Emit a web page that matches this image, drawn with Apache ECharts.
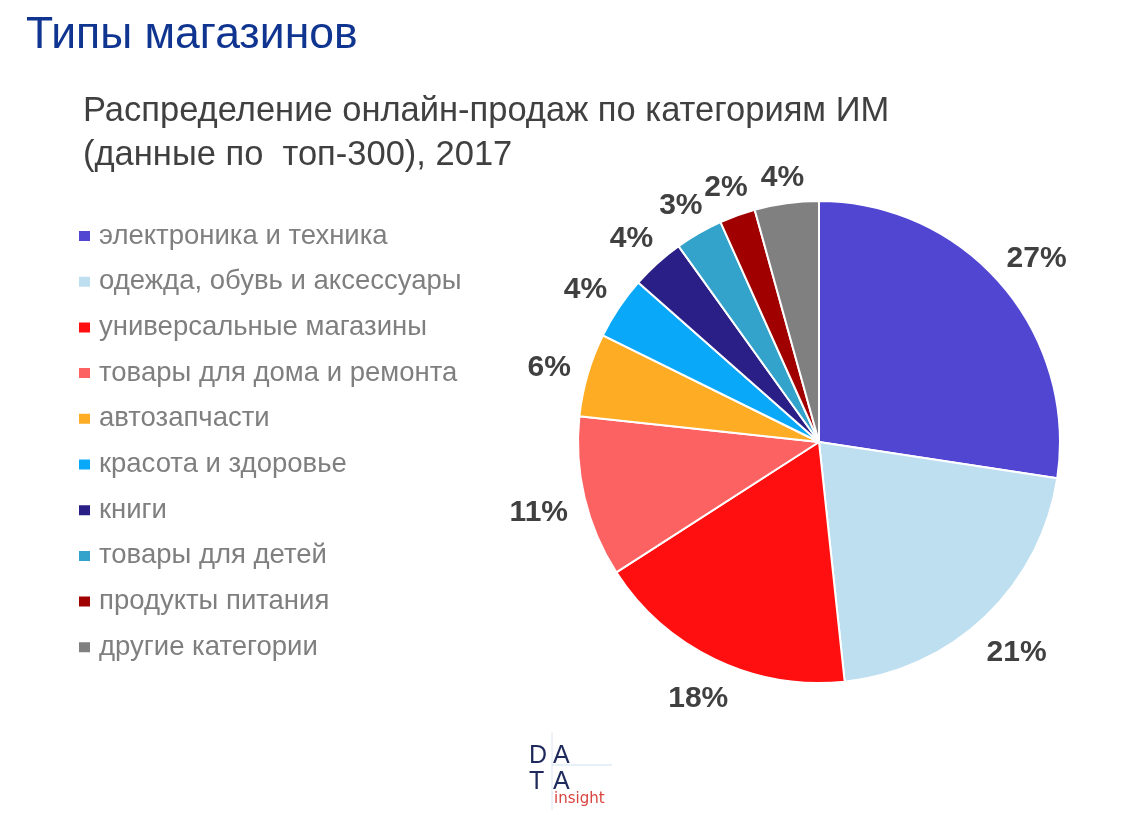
<!DOCTYPE html>
<html><head><meta charset="utf-8">
<script src="https://cdn.jsdelivr.net/npm/echarts@6/dist/echarts.min.js"></script>
<style>html,body{margin:0;padding:0;background:#fff}#c{width:1145px;height:815px}</style>
</head><body><div id="c"></div>
<script>
const categories = ['электроника и техника','одежда, обувь и аксессуары','универсальные магазины','товары для дома и ремонта','автозапчасти','красота и здоровье','книги','товары для детей','продукты питания','другие категории'];
const shares = [27.4, 20.9, 17.6, 10.8, 5.6, 4.2, 3.6, 3.2, 2.4, 4.3];
const colors = ['#5046d2','#bddff0','#ff0f0f','#fd6262','#fdac24','#0aa8f8','#2a1f86','#33a3cc','#a00000','#808080'];
const titleText = 'Типы магазинов';
const subtitleText = 'Распределение онлайн-продаж по категориям ИМ\n(данные по  топ-300), 2017';

const FONT = '"Liberation Sans", Arial, sans-serif';
const PIE_R = 241, LABEL_GAP = 13, RING_MID = 283, LABEL_FONT = 30, LABEL_HALF_H = 11, LABEL_BASE_DY = 4;

const data = categories.map((n, i) => ({ name: n, value: shares[i], itemStyle: { color: colors[i] } }));
const labelData = categories.map((n, i) => ({ name: n, value: shares[i] }));

// Excel-style "outside end" placement: nearest corner of each label box sits LABEL_GAP beyond the rim
const ctx = document.createElement('canvas').getContext('2d');
ctx.font = 'bold ' + LABEL_FONT + 'px ' + FONT;
const total = shares.reduce((a, b) => a + b, 0);
let cum = 0;
const labelShift = shares.map(v => {
  const mid = (cum + v / 2) / total * Math.PI * 2; cum += v;
  const hw = ctx.measureText(Math.round(v) + '%').width / 2;
  const s = Math.sin(mid), c = Math.cos(mid);
  const R = PIE_R + LABEL_GAP + hw * Math.abs(s) + LABEL_HALF_H * Math.abs(c);
  const d = R - RING_MID;
  return { dx: d * s, dy: -d * c + LABEL_BASE_DY };
});

const chart = echarts.init(document.getElementById('c'));
chart.setOption({
  backgroundColor: '#fff',
  animation: false,
  title: [
    { text: titleText, left: 21, top: 8, textStyle: { fontFamily: FONT, fontSize: 44.5, fontWeight: 'normal', color: '#0f3590' } },
    { text: subtitleText, left: 78, top: 84, textStyle: { fontFamily: FONT, fontSize: 34.5, fontWeight: 'normal', color: '#404040', lineHeight: 44 } }
  ],
  legend: {
    orient: 'vertical', left: 72, top: 216,
    icon: 'rect', itemWidth: 13, itemHeight: 12, itemGap: 15.7,
    data: categories,
    textStyle: { fontFamily: FONT, fontSize: 27.5, color: '#7f7f7f', lineHeight: 30, padding: [0,0,0,3] },
    selectedMode: false
  },
  series: [
    {
      type: 'pie', center: [819, 442], radius: [0, PIE_R], startAngle: 90, clockwise: true,
      data: data,
      itemStyle: { borderColor: '#fff', borderWidth: 2 },
      label: { show: false }, labelLine: { show: false },
      emphasis: { disabled: true }, silent: true
    },
    {
      type: 'pie', center: [819, 442], radius: [0, RING_MID * 2], startAngle: 90, clockwise: true,
      data: labelData,
      itemStyle: { color: 'rgba(0,0,0,0)' },
      label: { show: true, position: 'inside', formatter: p => Math.round(p.value) + '%', fontFamily: FONT, fontSize: LABEL_FONT, fontWeight: 'bold', color: '#404040' },
      labelLine: { show: false },
      labelLayout: p => ({ dx: labelShift[p.dataIndex].dx, dy: labelShift[p.dataIndex].dy, hideOverlap: false }),
      emphasis: { disabled: true }, silent: true
    }
  ],
  graphic: [
    { type: 'line', shape: { x1: 552, y1: 732, x2: 552, y2: 810 }, style: { stroke: '#dde6f2', lineWidth: 1 } },
    { type: 'line', shape: { x1: 552, y1: 765, x2: 612, y2: 765 }, style: { stroke: '#cfe0f0', lineWidth: 1 } },
    { type: 'text', left: 529, top: 744, style: { text: 'D', font: '25px "Liberation Sans", sans-serif', fill: '#1f2a5c' } },
    { type: 'text', left: 553, top: 744, style: { text: 'A', font: '25px "Liberation Sans", sans-serif', fill: '#1f2a5c' } },
    { type: 'text', left: 529, top: 770, style: { text: 'T', font: '25px "Liberation Sans", sans-serif', fill: '#1f2a5c' } },
    { type: 'text', left: 553, top: 770, style: { text: 'A', font: '25px "Liberation Sans", sans-serif', fill: '#1f2a5c' } },
    { type: 'text', left: 554, top: 792, style: { text: 'insight', font: '15px "DejaVu Sans", sans-serif', fill: '#d9443f' } }
  ]
});
</script></body></html>
